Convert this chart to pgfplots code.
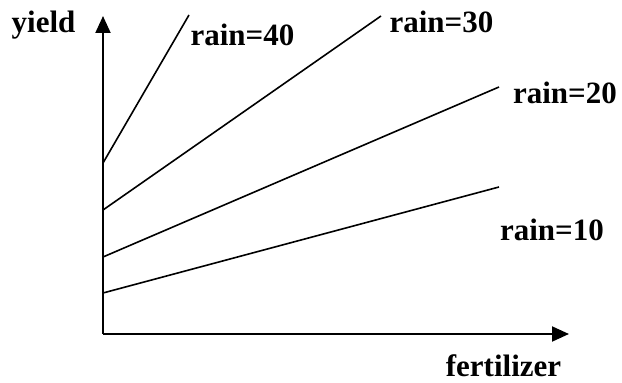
\documentclass[border=0pt]{standalone}
\usepackage{fontspec}
\setmainfont{Liberation Serif}
\usepackage{pgfplots}
\pgfplotsset{compat=1.18}
\usetikzlibrary{arrows.meta}
\begin{document}
\begin{tikzpicture}[x=1pt,y=1pt]
\useasboundingbox (0,0) rectangle (622,383);
\begin{axis}[
  at={(103pt,49pt)}, anchor=origin,
  scale only axis,
  width=466pt, height=318pt,
  xmin=0, xmax=466, ymin=0, ymax=318,
  axis lines=left,
  axis line style={line width=2pt, -{Triangle[length=17pt,width=15pt]}},
  xtick=\empty, ytick=\empty,
  clip=false,
]
\addplot[black, line width=1.6pt] coordinates {(0,41) (396,147)};
\addplot[black, line width=1.6pt] coordinates {(0,77) (396,247)};
\addplot[black, line width=1.6pt] coordinates {(0,124) (278,318)};
\addplot[black, line width=1.6pt] coordinates {(0,171) (86,319)};
\end{axis}
\begin{scope}[every node/.style={font=\fontsize{31}{36}\selectfont\bfseries, inner sep=0pt, anchor=base}]
\node at (43.5,350) {yield};
\node at (242.5,337) {rain=40};
\node at (441.5,350) {rain=30};
\node at (565,279) {rain=20};
\node at (552,142) {rain=10};
\node at (503.5,6) {fertilizer};
\end{scope}
\end{tikzpicture}
\end{document}
